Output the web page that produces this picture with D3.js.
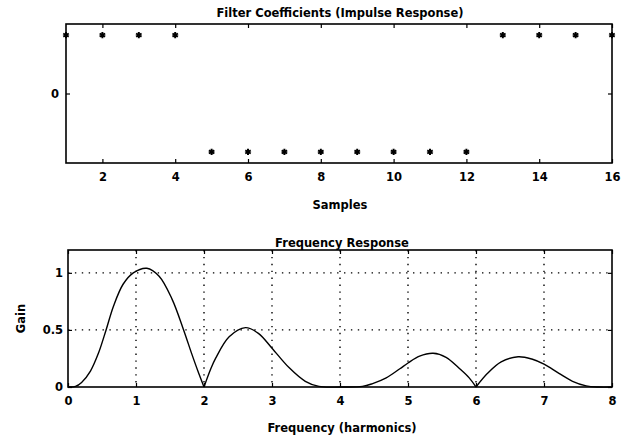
<!DOCTYPE html>
<html>
<head>
<meta charset="utf-8">
<script src="https://cdn.jsdelivr.net/npm/d3@7"></script>
<style>
  html, body { margin: 0; padding: 0; background: #fff; }
  svg { display: block; }
  text { font-family: "DejaVu Sans", sans-serif; fill: #000; }
</style>
</head>
<body>
<svg id="chart" width="622" height="435"></svg>
<script>
// ---- Data ----
const samples = [1, 2, 3, 4, 5, 6, 7, 8, 9, 10, 11, 12, 13, 14, 15, 16];
const coeffs = [1, 1, 1, 1, -1, -1, -1, -1, -1, -1, -1, -1, 1, 1, 1, 1];
const sampleTicks = [2, 4, 6, 8, 10, 12, 14, 16];
const coeffTicks = [0];

const freq = [0, 0.11, 0.2, 0.33, 0.45, 0.56, 0.67, 0.81, 0.96, 1.16, 1.34, 1.53, 1.70, 1.82, 1.91, 2.0,
  2.1, 2.17, 2.37, 2.61, 2.8, 3.0, 3.25, 3.49, 3.69, 4.0, 4.33, 4.48, 4.68, 4.88, 5.0, 5.17, 5.37, 5.56, 5.76, 5.9, 6.0,
  6.17, 6.37, 6.62, 6.82, 7.0, 7.22, 7.42, 7.62, 7.8, 8.0];
const gain = [0, 0.005, 0.04, 0.14, 0.3, 0.5, 0.71, 0.9, 1.0, 1.04, 0.97, 0.77, 0.5, 0.29, 0.14, 0,
  0.16, 0.25, 0.44, 0.52, 0.47, 0.34, 0.17, 0.05, 0.005, 0, 0.005, 0.03, 0.08, 0.16, 0.21, 0.27, 0.295, 0.26, 0.16, 0.08, 0,
  0.12, 0.22, 0.265, 0.245, 0.2, 0.12, 0.05, 0.01, 0, 0];
const cusps = [2, 6];
const freqTicks = [0, 1, 2, 3, 4, 5, 6, 7, 8];
const gainTicks = [0, 0.5, 1];
const gridX = [1, 2, 3, 4, 5, 6, 7];
const gridY = [0.5, 1];

const svg = d3.select("#chart");
const TICK = 4;
const FS = 11.5;

// ---------- Top plot ----------
const t = { l: 66, r: 612, t: 24, b: 163 };
const xT = d3.scaleLinear().domain([1, 16]).range([t.l, t.r]);
const yT = d3.scaleLinear().domain([-1.19, 1.19]).range([t.b, t.t]);
const gT = svg.append("g");

gT.append("g").attr("transform", `translate(0,${t.b})`)
  .call(d3.axisBottom(xT).tickValues(sampleTicks).tickSizeInner(-TICK).tickSizeOuter(0).tickPadding(10).tickFormat(d3.format("d")))
  .call(g => g.select(".domain").remove())
  .call(g => g.selectAll("text").attr("font-size", FS).attr("font-weight", "bold").attr("font-family", "DejaVu Sans"));
gT.append("g").attr("transform", `translate(0,${t.t})`)
  .call(d3.axisTop(xT).tickValues(sampleTicks).tickSizeInner(-TICK).tickSizeOuter(0).tickFormat(""))
  .call(g => g.select(".domain").remove());
gT.append("g").attr("transform", `translate(${t.l},0)`)
  .call(d3.axisLeft(yT).tickValues(coeffTicks).tickSizeInner(-TICK).tickSizeOuter(0).tickPadding(7).tickFormat(d3.format("d")))
  .call(g => g.select(".domain").remove())
  .call(g => g.selectAll("text").attr("font-size", FS).attr("font-weight", "bold").attr("font-family", "DejaVu Sans"));
gT.append("g").attr("transform", `translate(${t.r},0)`)
  .call(d3.axisRight(yT).tickValues(coeffTicks).tickSizeInner(-TICK).tickSizeOuter(0).tickFormat(""))
  .call(g => g.select(".domain").remove());
gT.selectAll(".tick line").attr("stroke", "#000").attr("stroke-width", 1.2);

gT.append("rect").attr("x", t.l).attr("y", t.t).attr("width", t.r - t.l).attr("height", t.b - t.t)
  .attr("fill", "none").attr("stroke", "#000").attr("stroke-width", 1.6);

const star = d3.symbol().type(d3.symbolAsterisk).size(28);
gT.selectAll("path.pt").data(samples).enter().append("path")
  .attr("class", "pt")
  .attr("transform", (d, i) => `translate(${xT(d)},${yT(coeffs[i])})`)
  .attr("d", star).attr("fill", "none").attr("stroke", "#000").attr("stroke-width", 2);

gT.append("text").attr("x", 340).attr("y", 17).attr("text-anchor", "middle")
  .attr("font-size", FS).attr("font-weight", "bold").text("Filter Coefficients (Impulse Response)");
gT.append("text").attr("x", 340).attr("y", 209).attr("text-anchor", "middle")
  .attr("font-size", FS).attr("font-weight", "bold").text("Samples");

// ---------- Bottom plot ----------
const b = { l: 68, r: 612, t: 250, b: 387 };
const xB = d3.scaleLinear().domain([0, 8]).range([b.l, b.r]);
const yB = d3.scaleLinear().domain([0, 1.2]).range([b.b, b.t]);
const gB = svg.append("g");

gB.selectAll("line.gx").data(gridX).enter().append("line")
  .attr("x1", d => xB(d)).attr("x2", d => xB(d)).attr("y1", b.t).attr("y2", b.b)
  .attr("stroke", "#000").attr("stroke-width", 1.4).attr("stroke-dasharray", "1.4,5.5");
gB.selectAll("line.gy").data(gridY).enter().append("line")
  .attr("x1", b.l).attr("x2", b.r).attr("y1", d => yB(d)).attr("y2", d => yB(d))
  .attr("stroke", "#000").attr("stroke-width", 1.4).attr("stroke-dasharray", "1.4,5.5");

gB.append("g").attr("transform", `translate(0,${b.b})`)
  .call(d3.axisBottom(xB).tickValues(freqTicks).tickSizeInner(-TICK).tickSizeOuter(0).tickPadding(10).tickFormat(d3.format("d")))
  .call(g => g.select(".domain").remove())
  .call(g => g.selectAll("text").attr("font-size", FS).attr("font-weight", "bold").attr("font-family", "DejaVu Sans"));
gB.append("g").attr("transform", `translate(0,${b.t})`)
  .call(d3.axisTop(xB).tickValues(freqTicks).tickSizeInner(-TICK).tickSizeOuter(0).tickFormat(""))
  .call(g => g.select(".domain").remove());
gB.append("g").attr("transform", `translate(${b.l},0)`)
  .call(d3.axisLeft(yB).tickValues(gainTicks).tickSizeInner(-TICK).tickSizeOuter(0).tickPadding(5).tickFormat(d => d === 0.5 ? "0.5" : d3.format("d")(d)))
  .call(g => g.select(".domain").remove())
  .call(g => g.selectAll("text").attr("font-size", FS).attr("font-weight", "bold").attr("font-family", "DejaVu Sans"));
gB.append("g").attr("transform", `translate(${b.r},0)`)
  .call(d3.axisRight(yB).tickValues(gainTicks).tickSizeInner(-TICK).tickSizeOuter(0).tickFormat(""))
  .call(g => g.select(".domain").remove());
gB.selectAll(".tick line").attr("stroke", "#000").attr("stroke-width", 1.2);

gB.append("rect").attr("x", b.l).attr("y", b.t).attr("width", b.r - b.l).attr("height", b.b - b.t)
  .attr("fill", "none").attr("stroke", "#000").attr("stroke-width", 1.6);

// response curve, split at the cusps so they stay sharp
const pts = freq.map((f, i) => [f, gain[i]]);
const bounds = [0, ...cusps, 8];
const segs = [];
for (let k = 0; k < bounds.length - 1; k++) {
  segs.push(pts.filter(p => p[0] >= bounds[k] && p[0] <= bounds[k + 1]));
}
const line = d3.line().x(d => xB(d[0])).y(d => Math.min(yB(d[1]), b.b)).curve(d3.curveCatmullRom.alpha(0.5));
gB.selectAll("path.resp").data(segs).enter().append("path")
  .attr("class", "resp").attr("d", line)
  .attr("fill", "none").attr("stroke", "#000").attr("stroke-width", 1.4);

gB.append("text").attr("x", 342).attr("y", 247).attr("text-anchor", "middle")
  .attr("font-size", FS).attr("font-weight", "bold").text("Frequency Response");
gB.append("text").attr("x", 342).attr("y", 432).attr("text-anchor", "middle")
  .attr("font-size", FS).attr("font-weight", "bold").text("Frequency (harmonics)");
gB.append("text").attr("transform", `translate(25,${(b.t + b.b) / 2}) rotate(-90)`).attr("text-anchor", "middle")
  .attr("font-size", FS).attr("font-weight", "bold").text("Gain");
</script>
</body>
</html>
